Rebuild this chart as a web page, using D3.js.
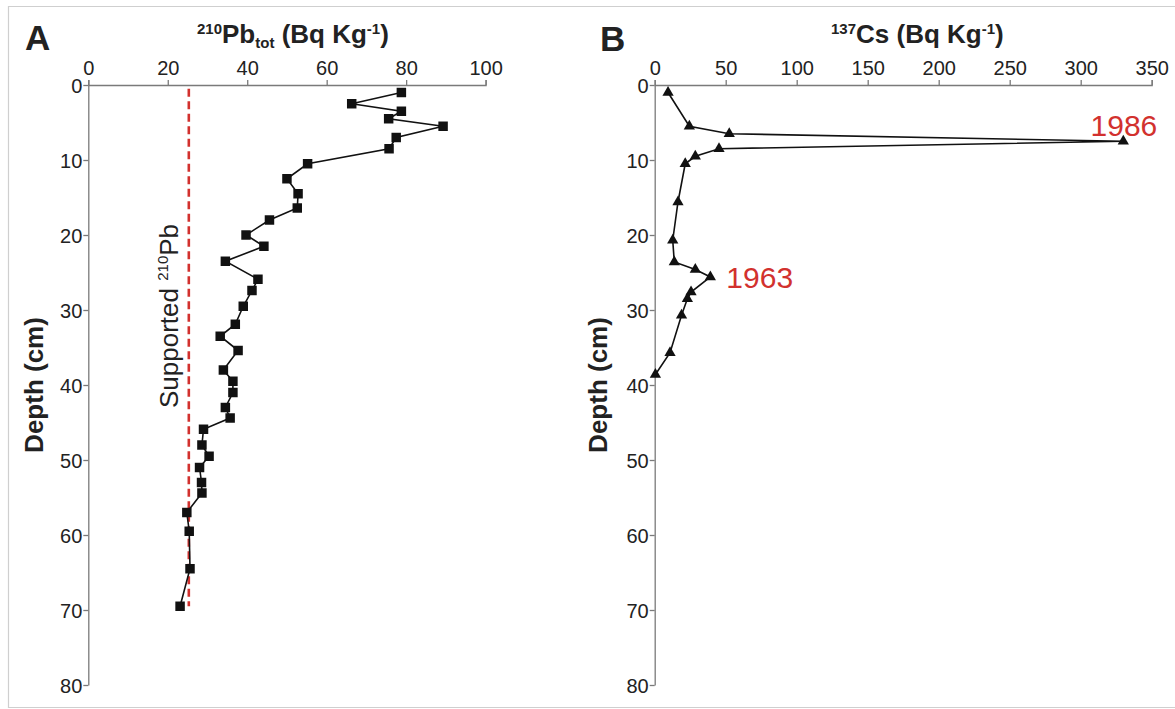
<!DOCTYPE html>
<html><head><meta charset="utf-8">
<script src="https://cdn.jsdelivr.net/npm/d3@7"></script>
<style>
html,body{margin:0;padding:0;background:#fff;}
svg{display:block;font-family:"Liberation Sans",Arial,sans-serif;}
</style></head>
<body>
<svg id="chart" width="1175" height="709"></svg>
<script>
// ---- Data ----
const pbDepth = [1.0, 2.5, 3.5, 4.5, 5.5, 7.0, 8.5, 10.5, 12.5, 14.5, 16.4, 18.0, 20.0, 21.5, 23.5, 25.9, 27.4, 29.5, 31.9, 33.5, 35.4, 38.0, 39.5, 41.0, 43.0, 44.4, 45.9, 48.0, 49.5, 51.0, 53.0, 54.4, 57.0, 59.5, 64.5, 69.5];
const pbValue = [78.8, 66.3, 78.8, 75.6, 89.3, 77.5, 75.7, 55.2, 50.0, 52.8, 52.6, 45.6, 39.7, 44.2, 34.5, 42.7, 41.2, 39.0, 37.0, 33.2, 37.7, 34.0, 36.4, 36.4, 34.5, 35.7, 29.0, 28.6, 30.4, 28.0, 28.5, 28.6, 24.8, 25.4, 25.6, 23.1];
const supportedPb = 25.3;
const supportedDepthRange = [0.5, 69.5];

const csDepth = [1.0, 5.5, 6.5, 7.5, 8.5, 9.5, 10.5, 15.6, 20.7, 23.6, 24.6, 25.6, 27.6, 28.5, 30.7, 35.7, 38.6];
const csValue = [9.4, 24.4, 52.5, 330, 45.3, 28.6, 21.5, 16.4, 12.7, 13.8, 28.6, 39.2, 25.6, 23.0, 18.9, 10.8, 0.5];

const pbTicks = [0, 20, 40, 60, 80, 100];
const csTicks = [0, 50, 100, 150, 200, 250, 300, 350];
const depthTicks = [0, 10, 20, 30, 40, 50, 60, 70, 80];

const annotations = [
  {label: "1986", depth: 7.5, value: 330},
  {label: "1963", depth: 25.6, value: 39.2}
];

// ---- Drawing ----
const svg = d3.select("#chart");
const RED = "#d2312e";
const AXIS = "#7a7a7a";
const TXT = "#222";

// frame
svg.append("path").attr("d", "M1175,6.5H8.5V707.5H1175").attr("fill", "none").attr("stroke", "#cfcfcf").attr("stroke-width", 1.2);

const y = d3.scaleLinear().domain([0, 80]).range([85, 685]);
const xA = d3.scaleLinear().domain([0, 100]).range([88.3, 485.6]);
const xB = d3.scaleLinear().domain([0, 350]).range([654.7, 1151.7]);

function drawAxes(x, ticks) {
  const gx = svg.append("g").attr("transform", `translate(0,${y(0)})`)
    .call(d3.axisTop(x).tickValues(ticks).tickSize(5).tickSizeOuter(5).tickFormat(d3.format("d")));
  const gy = svg.append("g").attr("transform", `translate(${x(0)},0)`)
    .call(d3.axisLeft(y).tickValues(depthTicks).tickSize(5).tickSizeOuter(0).tickFormat(d3.format("d")));
  [gx, gy].forEach(g => {
    g.select(".domain").attr("stroke", AXIS).attr("stroke-width", 1.3);
    g.selectAll(".tick line").attr("stroke", AXIS).attr("stroke-width", 1.3);
    g.selectAll(".tick text").attr("fill", TXT).attr("font-size", 20)
      .attr("font-family", '"Liberation Sans",Arial,sans-serif');
  });
  gx.selectAll(".tick text").attr("dy", "-0.1em");
  gy.selectAll(".tick text").attr("x", -6).attr("dy", "0.36em");
}
drawAxes(xA, pbTicks);
drawAxes(xB, csTicks);

// panel letters
svg.append("text").attr("x", 25).attr("y", 50).attr("font-size", 35).attr("font-weight", "bold").attr("fill", TXT).text("A");
svg.append("text").attr("x", 600).attr("y", 51).attr("font-size", 35).attr("font-weight", "bold").attr("fill", TXT).text("B");

// titles
const tA = svg.append("text").attr("x", 197).attr("y", 43).attr("font-size", 26).attr("font-weight", "bold").attr("fill", TXT);
tA.append("tspan").attr("font-size", 15).attr("dy", -9).text("210");
tA.append("tspan").attr("dy", 9).text("Pb");
tA.append("tspan").attr("font-size", 15).attr("dy", 5).text("tot");
tA.append("tspan").attr("dy", -5).text(" (Bq Kg");
tA.append("tspan").attr("font-size", 15).attr("dy", -9).text("-1");
tA.append("tspan").attr("dy", 9).text(")");

const tB = svg.append("text").attr("x", 831).attr("y", 43).attr("font-size", 26).attr("font-weight", "bold").attr("fill", TXT);
tB.append("tspan").attr("font-size", 15).attr("dy", -9).text("137");
tB.append("tspan").attr("dy", 9).text("Cs (Bq Kg");
tB.append("tspan").attr("font-size", 15).attr("dy", -9).text("-1");
tB.append("tspan").attr("dy", 9).text(")");

// y axis titles
[[43, 385], [607, 385]].forEach(([cx, cy]) => {
  svg.append("text").attr("transform", `translate(${cx},${cy}) rotate(-90)`)
    .attr("text-anchor", "middle").attr("font-size", 26).attr("font-weight", "bold").attr("fill", TXT)
    .text("Depth (cm)");
});

// supported line
svg.append("line")
  .attr("x1", xA(supportedPb)).attr("x2", xA(supportedPb))
  .attr("y1", y(supportedDepthRange[0])).attr("y2", y(supportedDepthRange[1]))
  .attr("stroke", RED).attr("stroke-width", 2.6).attr("stroke-dasharray", "8,4.5");

const sup = svg.append("text").attr("transform", `translate(178,408) rotate(-90)`)
  .attr("font-size", 26).attr("fill", TXT);
sup.append("tspan").text("Supported ");
sup.append("tspan").attr("font-size", 15).attr("dy", -10).text("210");
sup.append("tspan").attr("dy", 10).text("Pb");

// Pb series
const pbData = pbDepth.map((d, i) => ({d, v: pbValue[i]}));
svg.append("path").datum(pbData)
  .attr("d", d3.line().x(p => xA(p.v)).y(p => y(p.d)))
  .attr("fill", "none").attr("stroke", "#111").attr("stroke-width", 1.6);
svg.append("g").selectAll("path").data(pbData).join("path")
  .attr("transform", p => `translate(${xA(p.v)},${y(p.d)})`)
  .attr("d", d3.symbol().type(d3.symbolSquare).size(90))
  .attr("fill", "#111");

// Cs series
const csData = csDepth.map((d, i) => ({d, v: csValue[i]}));
svg.append("path").datum(csData)
  .attr("d", d3.line().x(p => xB(p.v)).y(p => y(p.d)))
  .attr("fill", "none").attr("stroke", "#111").attr("stroke-width", 1.6);
svg.append("g").selectAll("path").data(csData).join("path")
  .attr("transform", p => `translate(${xB(p.v)},${y(p.d)})`)
  .attr("d", d3.symbol().type(d3.symbolTriangle).size(55))
  .attr("fill", "#111");

// annotations
svg.append("text").attr("x", xB(annotations[0].value) + 34).attr("y", y(annotations[0].depth) - 5)
  .attr("text-anchor", "end").attr("font-size", 30).attr("fill", RED).text(annotations[0].label);
svg.append("text").attr("x", xB(annotations[1].value) + 16).attr("y", y(annotations[1].depth) + 11)
  .attr("font-size", 30).attr("fill", RED).text(annotations[1].label);
</script>
</body></html>
